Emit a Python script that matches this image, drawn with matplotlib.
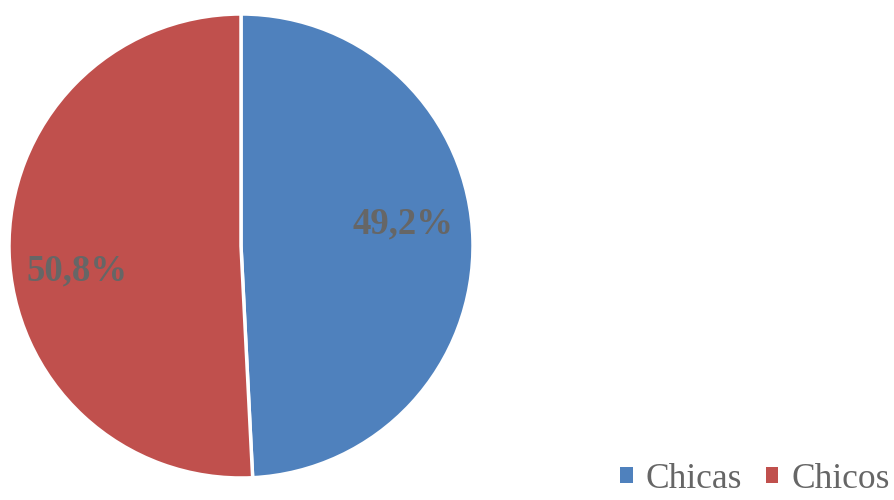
import matplotlib.pyplot as plt
from matplotlib.patches import Patch

# data
labels = ['Chicas', 'Chicos']
values = [49.2, 50.8]
colors = ['#4F81BD', '#C0504D']

plt.rcParams['font.family'] = ['Liberation Serif', 'DejaVu Serif']

fig = plt.figure(figsize=(8.94, 5.0), dpi=100)
# square axes over the pie area (pixels 9..473 across, 14..478 down)
ax = fig.add_axes([9 / 894, 22 / 500, 464 / 894, 464 / 500])

wedges, texts, autotexts = ax.pie(values, colors=colors, startangle=90, counterclock=False,
                                  autopct=lambda p: f'{p:.1f}%'.replace('.', ','),
                                  pctdistance=0.7,
                                  wedgeprops=dict(edgecolor='white', linewidth=2.5))
ax.set_xlim(-1, 1)
ax.set_ylim(-1, 1)
ax.set_aspect('equal')

# nudge labels to where the original puts them
autotexts[0].set_position((0.70, 0.095))
autotexts[1].set_position((-0.705, -0.108))
for t in autotexts:
    t.set_fontsize(26.5)
    t.set_fontweight('bold')
    t.set_color('#666666')

handles = [Patch(facecolor=c, edgecolor='none') for c in colors]
fig.legend(handles, labels, loc='lower right', bbox_to_anchor=(1.003, -0.006), ncol=2,
           frameon=False, fontsize=25.5, labelcolor='#666666',
           borderaxespad=0, borderpad=0.2,
           handlelength=0.34, handleheight=0.34, handletextpad=0.37, columnspacing=0.68)

fig.savefig('out.png', dpi=100)
